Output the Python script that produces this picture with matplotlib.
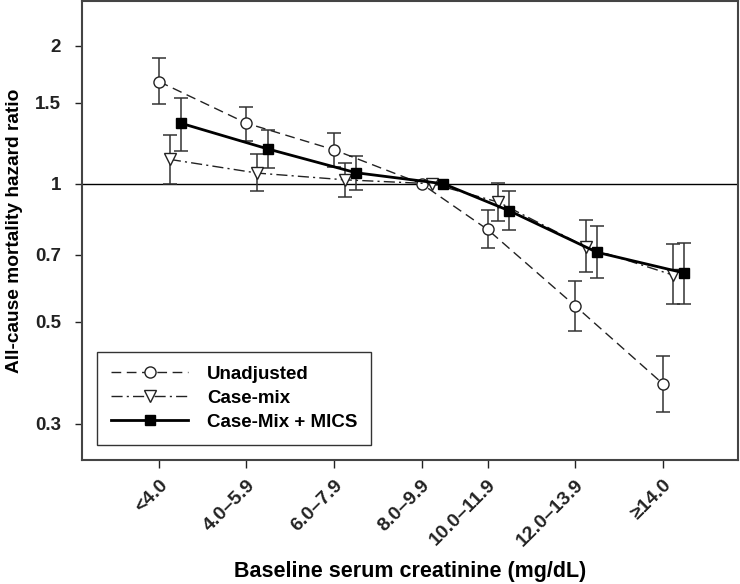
import numpy as np
import matplotlib
matplotlib.use("Agg")
import matplotlib.pyplot as plt

plt.rcParams['font.family'] = ['Liberation Sans', 'DejaVu Sans']
plt.rcParams['font.weight'] = 'bold'

categories = ["<4.0", "4.0\u20135.9", "6.0\u20137.9", "8.0\u20139.9",
              "10.0\u201311.9", "12.0\u201313.9", "\u226514.0"]
group_pos = [0, 1, 2, 3, 3.755, 4.755, 5.755]

unadj = [1.67, 1.355, 1.186, 1.0, 0.795, 0.542, 0.367]
unadj_lo = [1.49, 1.24, 1.09, 1.0, 0.723, 0.477, 0.318]
unadj_hi = [1.88, 1.47, 1.29, 1.0, 0.876, 0.613, 0.422]

casemix = [1.13, 1.055, 1.02, 1.0, 0.912, 0.728, 0.632]
casemix_lo = [1.00, 0.966, 0.935, 1.0, 0.828, 0.642, 0.546]
casemix_hi = [1.28, 1.16, 1.11, 1.0, 1.006, 0.832, 0.738]

mics = [1.355, 1.19, 1.057, 1.0, 0.873, 0.709, 0.639]
mics_lo = [1.18, 1.08, 0.967, 1.0, 0.791, 0.623, 0.547]
mics_hi = [1.54, 1.31, 1.15, 1.0, 0.963, 0.810, 0.744]

yticks = [0.3, 0.5, 0.7, 1, 1.5, 2]
ytick_labels = ["0.3", "0.5", "0.7", "1", "1.5", "2"]

fig = plt.figure(figsize=(7.4, 5.84), dpi=100)
ax = fig.add_axes([0.1108, 0.2123, 0.8865, 0.7857])

ax.set_yscale('log')
ax.axhline(1.0, color='black', lw=1.0, zorder=1)

gp = np.array(group_pos, dtype=float)
series = [
    ("Unadjusted", unadj, unadj_lo, unadj_hi, 0.0,
     dict(ls=(0, (7, 4)), lw=1.0, marker='o', ms=8, mfc='white', mec='#222222', mew=1.0, color='#222222')),
    ("Case-mix", casemix, casemix_lo, casemix_hi, 0.124,
     dict(ls=(0, (8, 3, 1.5, 3)), lw=1.0, marker='v', ms=8, mfc='white', mec='#222222', mew=1.0, color='#222222')),
    ("Case-Mix + MICS", mics, mics_lo, mics_hi, 0.25,
     dict(ls='-', lw=2.0, marker='s', ms=7, mfc='black', mec='black', color='black')),
]

handles = []
for name, v, lo, hi, off, style in series:
    v = np.array(v); lo = np.array(lo); hi = np.array(hi)
    x = gp + off
    mask = hi > lo
    ax.errorbar(x[mask], v[mask], yerr=[v[mask] - lo[mask], hi[mask] - v[mask]],
                fmt='none', ecolor='#333333', elinewidth=1.1, capsize=4.8, capthick=1.1, zorder=2)
    h, = ax.plot(x, v, label=name, zorder=3, **style)
    handles.append(h)

ax.set_ylim(0.25, 2.5)
ax.set_xlim(-0.88, 6.617)
ax.set_yticks(yticks)
ax.set_yticklabels(ytick_labels)
ax.yaxis.set_minor_locator(matplotlib.ticker.NullLocator())
ax.set_xticks(group_pos)
ax.set_xticklabels(categories, rotation=45, ha='right', rotation_mode='anchor')

ax.tick_params(axis='y', direction='out', length=5, width=1, pad=10, labelsize=13.5, colors='#222222')
ax.tick_params(axis='x', direction='out', length=6, width=1, pad=6, labelsize=14, colors='#222222')
for lab in ax.get_xticklabels() + ax.get_yticklabels():
    lab.set_fontweight('bold')

for s in ax.spines.values():
    s.set_color('#444444')
    s.set_linewidth(1.5)

ax.set_ylabel("All-cause mortality hazard ratio", fontsize=13.8, fontweight='bold', labelpad=9)
ax.set_xlabel("Baseline serum creatinine (mg/dL)", fontsize=15.5, fontweight='bold', labelpad=8)

leg = ax.legend(handles=handles, loc='lower left', bbox_to_anchor=(0.023, 0.033),
                borderaxespad=0, handlelength=4.1, handletextpad=1.0,
                labelspacing=0.36, borderpad=0.75, frameon=True, fancybox=False,
                edgecolor='black', numpoints=1, prop={'weight': 'bold', 'size': 13.5})
leg.get_frame().set_linewidth(1.0)

fig.savefig("out.png", dpi=100)
